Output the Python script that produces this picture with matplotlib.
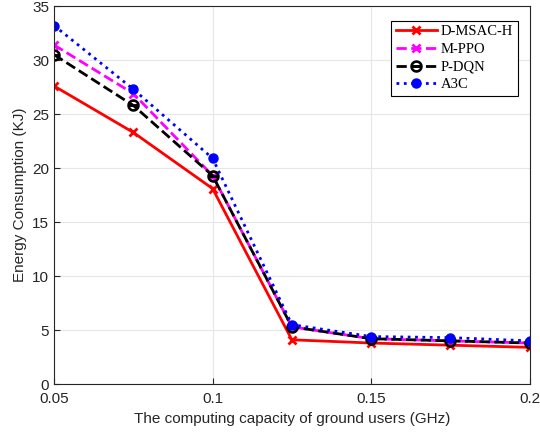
import numpy as np
import matplotlib
matplotlib.use("Agg")
import matplotlib.pyplot as plt

# data
capacity = [0.05, 0.075, 0.1, 0.125, 0.15, 0.175, 0.2]
d_msac_h = [27.6, 23.3, 18.1, 4.1, 3.8, 3.6, 3.4]
m_ppo = [31.4, 26.9, 19.3, 5.3, 4.2, 4.0, 3.8]
p_dqn = [30.5, 25.8, 19.3, 5.3, 4.2, 4.0, 3.8]
a3c = [33.2, 27.3, 20.9, 5.5, 4.4, 4.3, 4.0]

plt.rcParams['font.family'] = ['Liberation Sans', 'DejaVu Sans']

fig = plt.figure(figsize=(5.4, 4.33), dpi=100)
ax = fig.add_axes([0.1, 0.113, 0.881, 0.873])

ax.plot(capacity, d_msac_h, '-', color='red', lw=2, marker='x', ms=6, mew=2, label='D-MSAC-H')
ax.plot(capacity, m_ppo, '--', color='magenta', lw=2, marker='x', ms=6, mew=2, label='M-PPO')
ax.plot(capacity, p_dqn, '--', color='black', lw=2, marker='$\\ominus$', ms=8, label='P-DQN')
ax.plot(capacity, a3c, ':', color='blue', lw=2, marker='o', ms=6.5, label='A3C')

ax.set_xlim(0.05, 0.2)
ax.set_ylim(0, 35)
ax.set_xticks([0.05, 0.1, 0.15, 0.2])
ax.set_xticklabels(['0.05', '0.1', '0.15', '0.2'])
ax.set_yticks(np.arange(0, 36, 5))
ax.tick_params(direction='in', labelsize=11, colors='#262626', length=4)
ax.tick_params(axis='x', pad=6)
ax.grid(True, color='#e6e6e6', lw=0.8)
ax.set_axisbelow(True)
for s in ax.spines.values():
    s.set_color('#262626')
    s.set_linewidth(0.8)

ax.set_xlabel('The computing capacity of ground users (GHz)', fontsize=11, color='#262626')
ax.set_ylabel('Energy Consumption (KJ)', fontsize=11, color='#262626')

leg = ax.legend(loc='upper right', bbox_to_anchor=(0.99, 0.98),
                prop={'family': 'Liberation Serif', 'size': 10.5},
                fancybox=False, edgecolor='black', framealpha=1,
                handlelength=2.8, borderpad=0.3, labelspacing=0.3, handletextpad=0.3)
leg.get_frame().set_linewidth(0.8)

fig.savefig('out.png', dpi=100)
